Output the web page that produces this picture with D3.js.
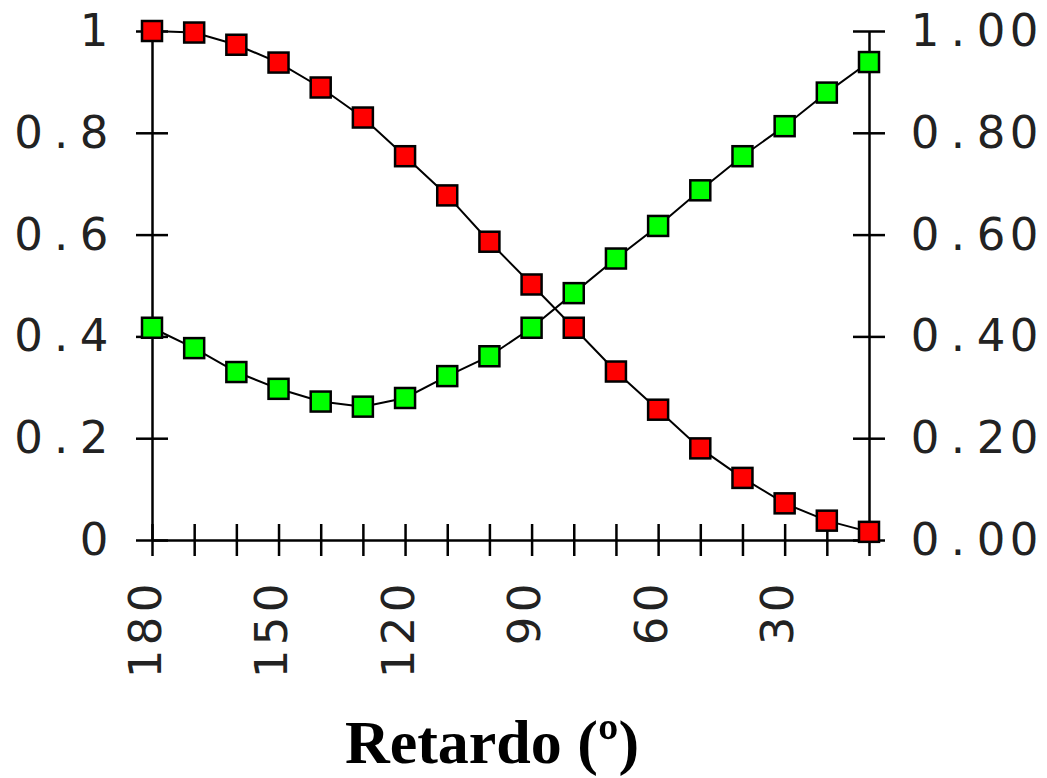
<!DOCTYPE html>
<html>
<head>
<meta charset="utf-8">
<style>
    body { margin: 0; background: #fff; }
    .axis path, .axis line { stroke: #000; stroke-width: 2.5; }
    .axis text { font-family: "DejaVu Sans", sans-serif; font-size: 45px; fill: #222; }
    .serie { fill: none; stroke: #000; stroke-width: 2; }
    .title { font-family: "Liberation Serif", serif; font-weight: bold; font-size: 62px; }
</style>
</head>
<body>
<div id="grafico"></div>

<script src="https://d3js.org/d3.v7.min.js"></script>
<script>

    // datos
    var retardo = [180, 170, 160, 150, 140, 130, 120, 110, 100, 90, 80, 70, 60, 50, 40, 30, 20, 10];
    var rojo  = [1.0, 0.997, 0.973, 0.938, 0.889, 0.830, 0.754, 0.677, 0.586, 0.502, 0.417, 0.331, 0.256, 0.180, 0.122, 0.072, 0.038, 0.016];
    var verde = [0.417, 0.377, 0.330, 0.297, 0.272, 0.262, 0.279, 0.322, 0.361, 0.417, 0.485, 0.553, 0.617, 0.687, 0.754, 0.813, 0.879, 0.939];

    var xEtiquetas = ["180", "", "", "150", "", "", "120", "", "", "90", "", "", "60", "", "", "30", "", ""];
    var yTicks = [0, 0.2, 0.4, 0.6, 0.8, 1];
    var yEtiquetasIzq = ["0", "0.2", "0.4", "0.6", "0.8", "1"];
    var yEtiquetasDer = ["0.00", "0.20", "0.40", "0.60", "0.80", "1.00"];

    var width = 1047, height = 778;

    var svg = d3.select("#grafico").append("svg")
        .attr("width", width)
        .attr("height", height);

    var xScale = d3.scaleLinear().domain([180, 10]).range([152, 869]);
    var yScale = d3.scaleLinear().domain([0, 1]).range([540, 31]);

    // coloca cada caracter en su celda, como una fuente de ancho fijo
    function espaciar(textos, ref, paso, alFinal) {
        textos.each(function() {
            var t = d3.select(this), n = t.text().length, xs = [];
            for (var k = 0; k < n; k++) {
                xs.push(alFinal ? ref - paso * (n - 1 - k) : ref + paso * k);
            }
            t.attr("x", xs.join(" ")).attr("text-anchor", "middle");
        });
    }

    // eje izquierdo
    var ejeIzq = svg.append("g")
        .attr("class", "axis")
        .attr("transform", "translate(" + xScale(180) + ",0)")
        .call(d3.axisLeft(yScale).tickValues(yTicks)
            .tickFormat(function(d, i) { return yEtiquetasIzq[i]; })
            .tickSize(16).tickSizeOuter(0));
    ejeIzq.selectAll(".tick line").attr("x1", 16);
    espaciar(ejeIzq.selectAll(".tick text"), -58, 32.75, true);

    // eje derecho
    var ejeDer = svg.append("g")
        .attr("class", "axis")
        .attr("transform", "translate(" + xScale(10) + ",0)")
        .call(d3.axisRight(yScale).tickValues(yTicks)
            .tickFormat(function(d, i) { return yEtiquetasDer[i]; })
            .tickSize(16).tickSizeOuter(0));
    ejeDer.selectAll(".tick line").attr("x1", -16);
    espaciar(ejeDer.selectAll(".tick text"), 56, 33, false);

    // eje x
    var ejeX = svg.append("g")
        .attr("class", "axis")
        .attr("transform", "translate(0," + yScale(0) + ")")
        .call(d3.axisBottom(xScale).tickValues(retardo)
            .tickFormat(function(d, i) { return xEtiquetas[i]; })
            .tickSize(16).tickSizeOuter(0));
    ejeX.selectAll(".tick line").attr("y1", -16);
    ejeX.selectAll(".tick text")
        .attr("transform", "rotate(-90)")
        .attr("y", 8)
        .attr("dy", 0);
    espaciar(ejeX.selectAll(".tick text"), -58, 33, true);

    svg.selectAll(".axis").attr("font-family", null).attr("font-size", null);

    // lineas
    var linea = d3.line()
        .x(function(d, i) { return xScale(retardo[i]); })
        .y(function(d) { return yScale(d); });

    svg.append("path").datum(rojo).attr("class", "serie").attr("d", linea);
    svg.append("path").datum(verde).attr("class", "serie").attr("d", linea);

    // marcadores
    function marcadores(valores, color) {
        svg.append("g").selectAll("rect")
            .data(valores)
            .enter().append("rect")
            .attr("x", function(d, i) { return xScale(retardo[i]) - 10; })
            .attr("y", function(d) { return yScale(d) - 10; })
            .attr("width", 20)
            .attr("height", 20)
            .attr("fill", color)
            .attr("stroke", "#000")
            .attr("stroke-width", 2.5);
    }
    marcadores(rojo, "#ff0000");
    marcadores(verde, "#00ff00");

    svg.append("text")
        .attr("class", "title")
        .attr("x", 492)
        .attr("y", 763)
        .attr("text-anchor", "middle")
        .text("Retardo (º)");

</script>
</body>
</html>
